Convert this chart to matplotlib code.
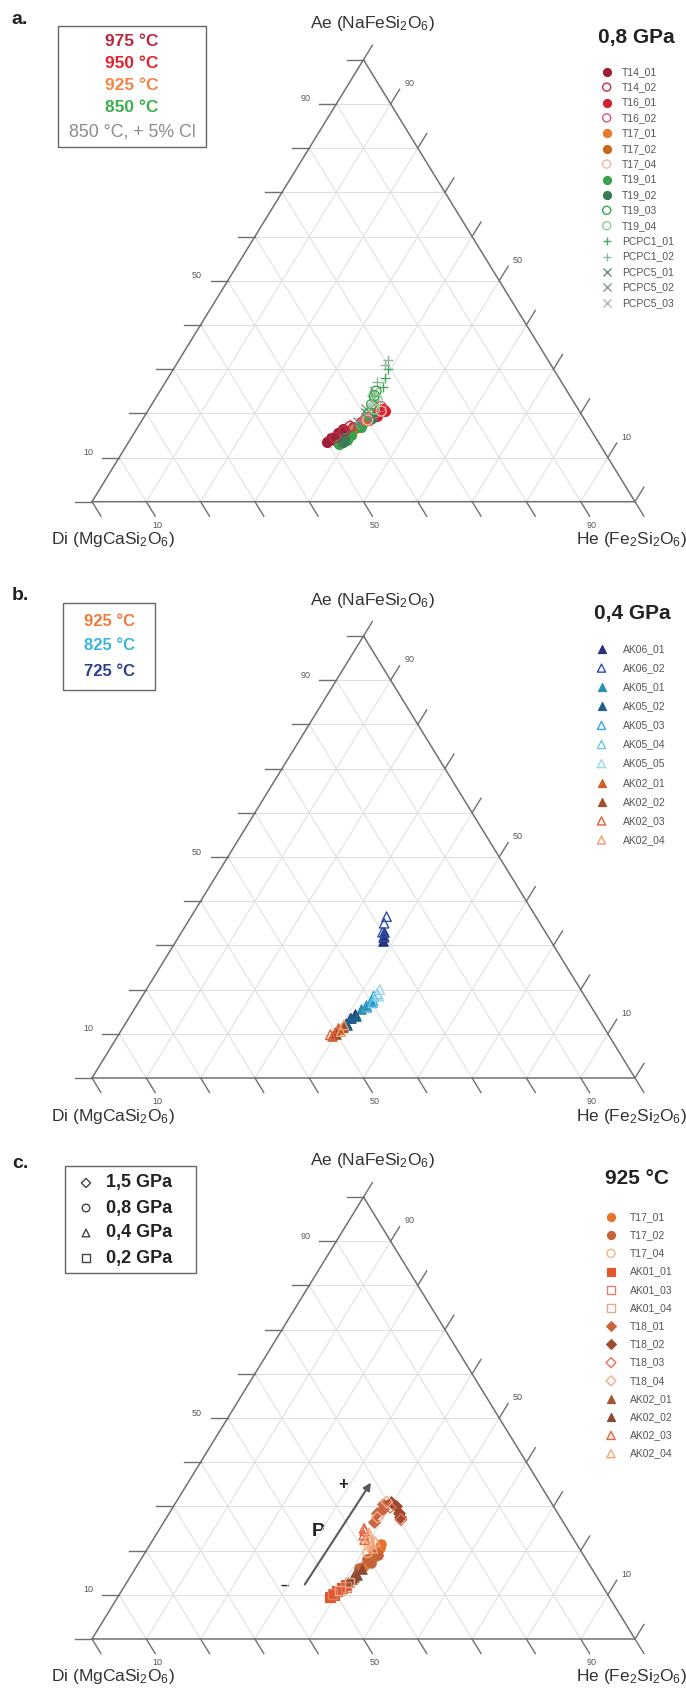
import matplotlib
matplotlib.use("Agg")
import matplotlib.pyplot as plt
from matplotlib.patches import Rectangle
import numpy as np

plt.rcParams['font.family'] = ['Liberation Sans', 'DejaVu Sans']
plt.rcParams['mathtext.fontset'] = 'custom'
plt.rcParams['mathtext.rm'] = 'Liberation Sans'
plt.rcParams['mathtext.it'] = 'Liberation Sans'

# ---------------- data (Ae %, He %; Di = 100 - Ae - He) ----------------
a_names = ['T14_01', 'T14_02', 'T16_01', 'T16_02', 'T17_01', 'T17_02', 'T17_04',
           'T19_01', 'T19_02', 'T19_03', 'T19_04', 'PCPC1_01', 'PCPC1_02',
           'PCPC5_01', 'PCPC5_02', 'PCPC5_03']
a_ae = {
    'T14_01': [13.5, 14.5, 15.5, 16.5, 14.0],
    'T14_02': [14.5, 16.0, 17.0],
    'T16_01': [17.0, 18.0, 19.0, 20.0, 21.0, 20.5, 19.5],
    'T16_02': [18.5, 20.0, 21.5],
    'T17_01': [16.5, 18.0, 19.0],
    'T17_02': [17.0, 18.5],
    'T17_04': [18.5, 20.5],
    'T19_01': [13.0, 14.0, 15.0, 17.0],
    'T19_02': [13.5, 14.5, 19.0],
    'T19_03': [20.0, 22.0, 24.0, 25.0],
    'T19_04': [23.0, 21.0],
    'PCPC1_01': [24.0, 26.0, 28.0, 30.0],
    'PCPC1_02': [27.0, 31.0, 32.0],
    'PCPC5_01': [18.0, 19.0, 20.0],
    'PCPC5_02': [21.0, 22.0, 17.5],
    'PCPC5_03': [23.0, 25.0],
}
a_he = {
    'T14_01': [36.5, 36.8, 37.5, 38.0, 37.8],
    'T14_02': [37.5, 38.5, 39.0],
    'T16_01': [39.5, 40.5, 41.5, 42.5, 43.0, 43.8, 42.8],
    'T16_02': [41.0, 42.0, 42.5],
    'T17_01': [40.0, 41.0, 41.2],
    'T17_02': [40.5, 41.8],
    'T17_04': [41.5, 43.0],
    'T19_01': [39.0, 40.0, 40.2, 41.0],
    'T19_02': [39.5, 39.2, 42.0],
    'T19_03': [41.0, 40.5, 40.0, 39.8],
    'T19_04': [41.0, 41.5],
    'PCPC1_01': [40.0, 40.5, 40.0, 39.5],
    'PCPC1_02': [39.0, 38.5, 38.5],
    'PCPC5_01': [40.0, 41.0, 40.5],
    'PCPC5_02': [40.0, 41.0, 39.5],
    'PCPC5_03': [40.0, 39.5],
}

b_names = ['AK06_01', 'AK06_02', 'AK05_01', 'AK05_02', 'AK05_03', 'AK05_04',
           'AK05_05', 'AK02_01', 'AK02_02', 'AK02_03', 'AK02_04']
b_ae = {
    'AK06_01': [31.0, 32.0, 33.0, 13.5, 14.5],
    'AK06_02': [33.0, 35.0, 36.5, 32.0],
    'AK05_01': [15.5, 16.5, 17.5],
    'AK05_02': [11.5, 12.5, 13.5, 14.0, 12.0],
    'AK05_03': [16.0, 17.5, 18.5],
    'AK05_04': [17.0, 19.0],
    'AK05_05': [20.0, 18.5],
    'AK02_01': [9.5, 10.5, 11.0],
    'AK02_02': [10.0, 11.5],
    'AK02_03': [9.8, 11.2],
    'AK02_04': [10.5, 12.0],
}
b_he = {
    'AK06_01': [38.0, 37.6, 37.2, 40.8, 41.2],
    'AK06_02': [37.0, 36.3, 36.0, 37.8],
    'AK05_01': [41.8, 42.2, 42.6],
    'AK05_02': [40.2, 40.6, 41.0, 41.6, 40.9],
    'AK05_03': [42.6, 43.0, 42.6],
    'AK05_04': [43.2, 43.0],
    'AK05_05': [43.0, 43.6],
    'AK02_01': [39.5, 39.5, 40.0],
    'AK02_02': [40.0, 40.5],
    'AK02_03': [39.0, 39.8],
    'AK02_04': [40.6, 40.4],
}

c_names = ['T17_01', 'T17_02', 'T17_04', 'AK01_01', 'AK01_03', 'AK01_04',
           'T18_01', 'T18_02', 'T18_03', 'T18_04', 'AK02_01', 'AK02_02',
           'AK02_03', 'AK02_04']
c_ae = {
    'T17_01': [16.5, 17.5, 18.5, 19.5, 20.5, 21.5],
    'T17_02': [16.0, 18.0, 19.0, 20.0, 17.2],
    'T17_04': [21.0, 22.0, 19.5],
    'AK01_01': [9.5, 10.0, 10.8, 11.5, 12.2],
    'AK01_03': [10.2, 11.8],
    'AK01_04': [11.0, 12.8],
    'T18_01': [26.5, 28.5, 30.5, 29.5],
    'T18_02': [31.0, 30.0, 28.5, 27.5],
    'T18_03': [27.0, 29.8],
    'T18_04': [27.5, 31.0],
    'AK02_01': [13.0, 14.0, 15.0],
    'AK02_02': [14.5, 15.8, 13.6],
    'AK02_03': [22.5, 23.5, 24.5, 25.0],
    'AK02_04': [21.5, 23.0, 24.0, 20.5, 22.0],
}
c_he = {
    'T17_01': [41.8, 42.2, 42.6, 42.3, 42.8, 42.4],
    'T17_02': [41.2, 41.6, 43.2, 41.8, 42.8],
    'T17_04': [40.5, 40.0, 41.0],
    'AK01_01': [39.0, 39.6, 39.8, 40.3, 40.6],
    'AK01_03': [39.2, 40.9],
    'AK01_04': [40.2, 41.0],
    'T18_01': [38.6, 38.2, 38.4, 38.8],
    'T18_02': [39.6, 41.0, 42.2, 43.0],
    'T18_03': [43.4, 40.0],
    'T18_04': [38.8, 38.8],
    'AK02_01': [40.6, 41.3, 41.0],
    'AK02_02': [41.6, 41.8, 41.0],
    'AK02_03': [39.0, 38.3, 38.0, 37.6],
    'AK02_04': [40.8, 39.5, 39.0, 41.5, 41.2],
}

tick_values = list(range(0, 101, 10))
tick_labels = {10: '10', 50: '50', 90: '90'}
a_temps = ['975 °C', '950 °C', '925 °C', '850 °C', '850 °C, + 5% Cl']
b_temps = ['925 °C', '825 °C', '725 °C']
c_pressures = ['1,5 GPa', '0,8 GPa', '0,4 GPa', '0,2 GPa']

# ---------------- styles ----------------
a_style = {
    'T14_01': ('o', '#9e1f36', True), 'T14_02': ('o', '#c0304a', False),
    'T16_01': ('o', '#d42035', True), 'T16_02': ('o', '#e0507a', False),
    'T17_01': ('o', '#e8782a', True), 'T17_02': ('o', '#c8681e', True),
    'T17_04': ('o', '#f5b8a0', False), 'T19_01': ('o', '#3aa04a', True),
    'T19_02': ('o', '#3a7a55', True), 'T19_03': ('o', '#3aa84a', False),
    'T19_04': ('o', '#8cd08c', False), 'PCPC1_01': ('+', '#4aa860', True),
    'PCPC1_02': ('+', '#90b8a0', True), 'PCPC5_01': ('x', '#6a8a78', True),
    'PCPC5_02': ('x', '#8a9a90', True), 'PCPC5_03': ('x', '#b0b8b4', True),
}
b_style = {
    'AK06_01': ('^', '#27307a', True), 'AK06_02': ('^', '#2c4fa8', False),
    'AK05_01': ('^', '#2a8fb0', True), 'AK05_02': ('^', '#1f5f8a', True),
    'AK05_03': ('^', '#35a8d8', False), 'AK05_04': ('^', '#6cc8e8', False),
    'AK05_05': ('^', '#9ad8ee', False), 'AK02_01': ('^', '#d0602a', True),
    'AK02_02': ('^', '#a0502a', True), 'AK02_03': ('^', '#e0603a', False),
    'AK02_04': ('^', '#f0a070', False),
}
c_style = {
    'T17_01': ('o', '#e8732e', True), 'T17_02': ('o', '#c4643c', True),
    'T17_04': ('o', '#f5b27a', False), 'AK01_01': ('s', '#e2572a', True),
    'AK01_03': ('s', '#d9826a', False), 'AK01_04': ('s', '#eaa78f', False),
    'T18_01': ('D', '#c9653f', True), 'T18_02': ('D', '#9e4a2e', True),
    'T18_03': ('D', '#e86f4e', False), 'T18_04': ('D', '#f3a88a', False),
    'AK02_01': ('^', '#a85430', True), 'AK02_02': ('^', '#8c4a32', True),
    'AK02_03': ('^', '#e8603c', False), 'AK02_04': ('^', '#f4a47a', False),
}
a_temp_colors = ['#b8283e', '#e2222e', '#f28444', '#3cb04a', '#8c8c8c']
b_temp_colors = ['#f07a3c', '#3cb4dc', '#2b3f8f']

# ---------------- layout ----------------
W, H = 686, 1693
L_PX, S_PX, HT_PX = 92.0, 543.0, 442.0
GRID = '#dddddd'
EDGE = '#707070'
TXT = '#555555'

fig = plt.figure(figsize=(W / 100, H / 100), dpi=100)
pax = fig.add_axes([0, 0, 1, 1])
pax.set_xlim(0, W)
pax.set_ylim(H, 0)
pax.axis('off')


def proj(ae, he):
    ae = np.asarray(ae, dtype=float) / 100.0
    he = np.asarray(he, dtype=float) / 100.0
    return he + ae / 2.0, ae


def make_tern(base):
    ax = fig.add_axes([0, 0, 1, 1])
    ax.set_xlim(-L_PX / S_PX, (W - L_PX) / S_PX)
    ax.set_ylim((base - H) / HT_PX, base / HT_PX)
    ax.axis('off')
    ax.patch.set_alpha(0)
    return ax


def px(dx, dy):
    # pixel offset -> data offset (dy positive = up)
    return dx / S_PX, dy / HT_PX


def draw_frame(ax):
    for v in tick_values[1:-1]:
        for (a0, h0), (a1, h1) in [((v, 0), (v, 100 - v)),
                                   ((0, v), (100 - v, v)),
                                   ((0, 100 - v), (100 - v, 0))]:
            x0, y0 = proj(a0, h0)
            x1, y1 = proj(a1, h1)
            ax.plot([x0, x1], [y0, y1], color=GRID, lw=0.7, zorder=1)
    ax.plot([0, 1, 0.5, 0], [0, 0, 1, 0], color=EDGE, lw=1.1, zorder=2,
            solid_joinstyle='miter')
    tl = 17.0
    ux, uy = 271.5 / 518.7, 442.0 / 518.7
    for v in tick_values:
        x, y = proj(v, 0)
        dx, _ = px(-tl, 0)
        ax.plot([x, x + dx], [y, y], color=EDGE, lw=1.0, zorder=2)
        if v in tick_labels:
            ox, oy = px(-9, 5)
            ax.text(x + dx + ox, y + oy, tick_labels[v], ha='right', va='center',
                    fontsize=6.5, color=TXT)
        x, y = proj(v, 100 - v)
        dx, dy = px(tl * ux, tl * uy)
        ax.plot([x, x + dx], [y, y + dy], color=EDGE, lw=1.0, zorder=2)
        if v in tick_labels:
            ox, oy = px(10, 6)
            ax.text(x + dx + ox, y + dy + oy, tick_labels[v], ha='center',
                    va='center', fontsize=6.5, color=TXT)
        x, y = proj(0, v)
        dx, dy = px(tl * ux, -tl * uy)
        ax.plot([x, x + dx], [y, y + dy], color=EDGE, lw=1.0, zorder=2)
        if v in tick_labels:
            ox, oy = px(2, -9)
            ax.text(x + dx + ox, y + dy + oy, tick_labels[v], ha='center',
                    va='center', fontsize=6.5, color=TXT)
    ax.text(*(np.array(proj(100, 0)) + np.array(px(9, 36))),
            'Ae (NaFeSi$_2$O$_6$)', ha='center', va='center', fontsize=12.5, color='#333333')
    ax.text(*(np.array(proj(0, 0)) + np.array(px(21, -38))),
            'Di (MgCaSi$_2$O$_6$)', ha='center', va='center', fontsize=12.5, color='#333333')
    ax.text(*(np.array(proj(0, 100)) + np.array(px(-4, -38))),
            'He (Fe$_2$Si$_2$O$_6$)', ha='center', va='center', fontsize=12.5, color='#333333')


def draw_points(ax, names, ae, he, style, size):
    for n in names:
        m, c, filled = style[n]
        x, y = proj(ae[n], he[n])
        sz = size * (0.75 if m == 'D' else 1.0)
        if m in ('+', 'x'):
            ax.scatter(x, y, marker=m, s=sz, c=c, linewidths=1.0, zorder=4)
        elif filled:
            ax.scatter(x, y, marker=m, s=sz, facecolors=c, edgecolors=c,
                       linewidths=0.8, zorder=4)
        else:
            ax.scatter(x, y, marker=m, s=sz, facecolors='none', edgecolors=c,
                       linewidths=1.0, zorder=5)


def draw_key(names, style, x_mark, x_text, y0, pitch, size):
    for i, n in enumerate(names):
        m, c, filled = style[n]
        y = y0 + i * pitch
        sz = size * (0.75 if m == 'D' else 1.0)
        if m in ('+', 'x'):
            pax.scatter([x_mark], [y], marker=m, s=sz, c=c, linewidths=1.0)
        elif filled:
            pax.scatter([x_mark], [y], marker=m, s=sz, facecolors=c, edgecolors=c,
                        linewidths=0.8)
        else:
            pax.scatter([x_mark], [y], marker=m, s=sz, facecolors='none',
                        edgecolors=c, linewidths=1.0)
        pax.text(x_text, y, n, ha='left', va='center', fontsize=7.5, color=TXT)


# ---------------- panel a ----------------
base_a = 501.7
axa = make_tern(base_a)
draw_frame(axa)
draw_points(axa, a_names, a_ae, a_he, a_style, 52)
pax.text(20, 20, 'a.', fontsize=14, fontweight='bold', ha='center', va='center', color='#222222')
pax.add_patch(Rectangle((58, 26), 148, 121, fill=False, ec='#666666', lw=1.0))
for i, (t, c) in enumerate(zip(a_temps, a_temp_colors)):
    yy = [42, 64, 86, 107, 132][i]
    pax.text(132, yy, t, ha='center', va='center', color=c,
             fontsize=12.5 if i < 4 else 12.8, fontweight='bold' if i < 4 else 'normal')
pax.text(636, 37, '0,8 GPa', ha='center', va='center', fontsize=15, fontweight='bold', color='#222222')
draw_key(a_names, a_style, 606.7, 621.7, 71.7, 15.4, 34)

# ---------------- panel b ----------------
base_b = 1078.0
axb = make_tern(base_b)
draw_frame(axb)
draw_points(axb, b_names, b_ae, b_he, b_style, 46)
pax.text(20, 596, 'b.', fontsize=14, fontweight='bold', ha='center', va='center', color='#222222')
pax.add_patch(Rectangle((63, 603), 92, 87, fill=False, ec='#666666', lw=1.0))
for i, (t, c) in enumerate(zip(b_temps, b_temp_colors)):
    pax.text(109, [621, 646, 672][i], t, ha='center', va='center', color=c,
             fontsize=12, fontweight='bold')
pax.text(632, 614, '0,4 GPa', ha='center', va='center', fontsize=15, fontweight='bold', color='#222222')
draw_key(b_names, b_style, 601.5, 623, 649, 19.1, 34)

# ---------------- panel c ----------------
base_c = 1639.0
axc = make_tern(base_c)
draw_frame(axc)
draw_points(axc, c_names, c_ae, c_he, c_style, 46)
pax.text(20, 1163, 'c.', fontsize=14, fontweight='bold', ha='center', va='center', color='#222222')
pax.add_patch(Rectangle((65, 1166), 131, 107, fill=False, ec='#666666', lw=1.0))
for i, (t, m) in enumerate(zip(c_pressures, ['D', 'o', '^', 's'])):
    yy = [1183, 1208, 1233, 1258][i]
    pax.scatter([86], [yy], marker=m, s=30 if m != 'D' else 22, facecolors='none',
                edgecolors='#444444', linewidths=1.0)
    pax.text(106, yy, t, ha='left', va='center', fontsize=13, fontweight='bold', color='#222222')
pax.text(637, 1178, '925 °C', ha='center', va='center', fontsize=15, fontweight='bold', color='#222222')
draw_key(c_names, c_style, 611, 630, 1217, 18.2, 34)

# pressure arrow
arrow_start = proj(11.8, 33.0)
arrow_end = proj(35.9, 33.7)
axc.annotate('', xy=(float(arrow_end[0]), float(arrow_end[1])),
             xytext=(float(arrow_start[0]), float(arrow_start[1])),
             arrowprops=dict(arrowstyle='-|>', color='#5a5a5a', lw=1.5, mutation_scale=11),
             zorder=3)
pax.text(343, 1484, '+', ha='center', va='center', fontsize=12, fontweight='bold', color='#222222')
pax.text(318, 1532, 'P', ha='center', va='center', fontsize=14, fontweight='bold', color='#222222')
pax.text(285, 1586, '\u2013', ha='center', va='center', fontsize=11, fontweight='bold', color='#222222')

fig.savefig('out.png', dpi=100)
